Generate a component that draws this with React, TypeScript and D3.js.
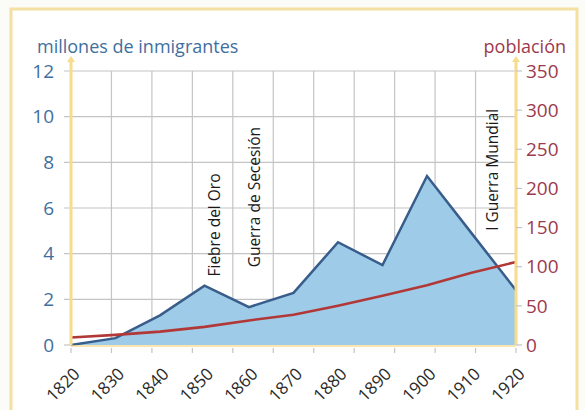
import React from 'react';
import * as d3 from 'd3';

const years = [1820, 1830, 1840, 1850, 1860, 1870, 1880, 1890, 1900, 1910, 1920];
const immigrants = [0, 0.3, 1.3, 2.6, 1.66, 2.28, 4.5, 3.5, 7.4, 4.9, 2.4];
const population = [9.6, 12.9, 17.1, 23.2, 31.4, 38.6, 50.2, 62.9, 76.2, 92.2, 106];
const leftTicks = [0, 2, 4, 6, 8, 10, 12];
const rightTicks = [0, 50, 100, 150, 200, 250, 300, 350];
const yearLabels = ['1820', '1830', '1840', '1850', '1860', '1870', '1880', '1890', '1900', '1910', '1920'];
const tickSlots = 12;
const eventLabels = ['Fiebre del Oro', 'Guerra de Secesión', 'I Guerra Mundial'];
const eventYears = [1853.5, 1862.5, 1916];
const eventValues = [3.0, 3.4, 5.0];

const W = 585, H = 410;
const L = 71, R = 516, T = 71, B = 345;
const FONT = '"Open Sans", "Noto Sans", sans-serif';

export default function App() {
  const x = d3.scaleLinear().domain([years[0], years[years.length - 1]]).range([L, R]);
  const xt = d3.scaleLinear().domain([0, tickSlots - 1]).range([L, R]);
  const y = d3.scaleLinear().domain([0, 12]).range([B, T]);
  const y2 = d3.scaleLinear().domain([0, 350]).range([B, T]);

  const imData = years.map((yr, i) => ({ yr, v: immigrants[i] }));
  const popData = years.map((yr, i) => ({ yr, v: population[i] }));

  const area = d3.area<any>().x(d => x(d.yr)).y0(y(0)).y1(d => y(d.v));
  const line = d3.line<any>().x(d => x(d.yr)).y(d => y(d.v));
  const line2 = d3.line<any>().x(d => x(d.yr)).y(d => y2(d.v));

  const slots = d3.range(tickSlots);
  const gridColor = '#c4c4c4';
  const axisYellow = '#f6dc8c';
  const blueText = '#3f6f9e';
  const redText = '#9c3a4e';

  return (
    <svg width={W} height={H} style={{ position: 'absolute', left: 0, top: 0, background: '#fbfbf8' }}>
      <rect x={11} y={9} width={566} height={420} fill="#ffffff" stroke="#f3e0a2" strokeWidth={3} />

      {leftTicks.slice(1).map(t => (
        <line key={'hg' + t} x1={64} x2={R} y1={y(t)} y2={y(t)} stroke={gridColor} strokeWidth={1.2} />
      ))}
      <line x1={64} x2={L} y1={y(0)} y2={y(0)} stroke={gridColor} strokeWidth={1.2} />
      {slots.slice(1, tickSlots - 1).map(i => (
        <line key={'vg' + i} x1={xt(i)} x2={xt(i)} y1={T} y2={B} stroke={gridColor} strokeWidth={1.2} />
      ))}

      <path d={area(imData) as string} fill="#9ecbe7" />
      <path d={line(imData) as string} fill="none" stroke="#395d8b" strokeWidth={2.5} strokeLinejoin="miter" />
      <path d={line2(popData) as string} fill="none" stroke="#b23838" strokeWidth={2.6} />

      <line x1={L} x2={R} y1={B + 1} y2={B + 1} stroke={axisYellow} strokeWidth={2} opacity={0.7} />
      <line x1={L} x2={L} y1={B} y2={60} stroke={axisYellow} strokeWidth={3} />
      <path d={`M${L - 4},${62} L${L},${56} L${L + 4},${62} Z`} fill={axisYellow} />
      <line x1={R} x2={R} y1={B} y2={60} stroke={axisYellow} strokeWidth={3} />
      <path d={`M${R - 4},${62} L${R},${56} L${R + 4},${62} Z`} fill={axisYellow} />

      {slots.map(i => (
        <line key={'bt' + i} x1={xt(i)} x2={xt(i)} y1={B + 3} y2={B + 8} stroke={gridColor} strokeWidth={1.2} />
      ))}
      {rightTicks.map(t => (
        <line key={'rt' + t} x1={R} x2={R + 6} y1={y2(t)} y2={y2(t)} stroke={gridColor} strokeWidth={1.2} />
      ))}

      {leftTicks.map(t => (
        <text key={'ll' + t} x={54} y={y(t)} dy="0.35em" textAnchor="end" fontFamily={FONT} fontSize={19} fill={blueText}>{t}</text>
      ))}
      {rightTicks.map(t => (
        <text key={'rl' + t} x={526} y={y2(t)} dy="0.35em" textAnchor="start" fontFamily={FONT} fontSize={19} fill={redText}>{t}</text>
      ))}
      {yearLabels.map((lab, i) => (
        <text key={'yl' + i} transform={`translate(${x(years[i]) + 10},${B + 30}) rotate(-45)`} textAnchor="end" fontFamily={FONT} fontSize={17} fill="#2a2a2a">{lab}</text>
      ))}

      <text x={37} y={53} fontFamily={FONT} fontSize={18} fill={blueText}>millones de inmigrantes</text>
      <text x={566} y={53} textAnchor="end" fontFamily={FONT} fontSize={18} fill={redText}>población</text>

      {eventLabels.map((lab, i) => (
        <text key={'ev' + i} transform={`translate(${x(eventYears[i])},${y(eventValues[i])}) rotate(-90)`} fontFamily={FONT} fontSize={15.5} fill="#1a1a1a">{lab}</text>
      ))}
    </svg>
  );
}
